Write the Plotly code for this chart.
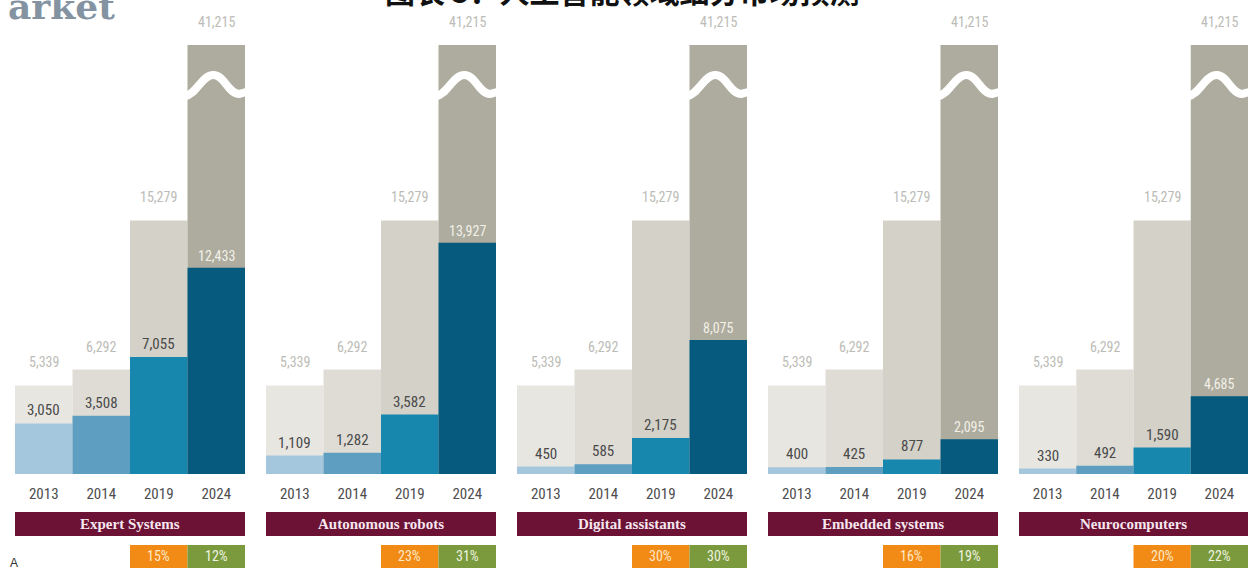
import plotly.graph_objects as go
from plotly.subplots import make_subplots

years = ["2013", "2014", "2019", "2024"]
market_total = [5339, 6292, 15279, 41215]
segments = ["Expert Systems", "Autonomous robots", "Digital assistants",
            "Embedded systems", "Neurocomputers"]
segment_values = [
    [3050, 3508, 7055, 12433],
    [1109, 1282, 3582, 13927],
    [450, 585, 2175, 8075],
    [400, 425, 877, 2095],
    [330, 492, 1590, 4685],
]
growth_orange = ["15%", "23%", "30%", "16%", "20%"]
growth_green = ["12%", "31%", "30%", "19%", "22%"]

W, H = 1248, 571
YMAX = 25850
BASE_PX, TOP_PX = 474, 45

bg_colors = ["#e8e6e1", "#dedcd5", "#d3d1c8", "#adac9e"]
fg_colors = ["#a4c7de", "#5e9ec1", "#1887ad", "#055a7e"]
fg_text_colors = ["#4a4a4a", "#4a4a4a", "#4a4a4a", "#f3f0e8"]

NARROW = "Liberation Sans Narrow, Roboto Condensed, Liberation Sans, sans-serif"

fig = make_subplots(rows=1, cols=5)

xs = list(range(len(years)))
annotations = []
shapes = []
panel_left = [15, 266, 517, 768, 1019]
panel_w = 230

ydom = [(H - BASE_PX) / H, (H - TOP_PX) / H]

def paper_y(px):
    return (H - px) / H

for i, name in enumerate(segments):
    col = i + 1
    xa = "x" if i == 0 else f"x{col}"
    ya = "y" if i == 0 else f"y{col}"
    fig.add_trace(go.Bar(x=xs, y=market_total, marker=dict(color=bg_colors, line=dict(width=0)),
                         width=1.0, showlegend=False, hoverinfo="skip"), row=1, col=col)
    fig.add_trace(go.Bar(x=xs, y=segment_values[i], marker=dict(color=fg_colors, line=dict(width=0)),
                         width=1.0, showlegend=False, hoverinfo="skip"), row=1, col=col)
    left = panel_left[i] / W
    right = min((panel_left[i] + panel_w) / W, 1.0)
    axkey = "xaxis" if i == 0 else f"xaxis{col}"
    aykey = "yaxis" if i == 0 else f"yaxis{col}"
    fig.layout[axkey].update(domain=[left, right], range=[-0.5, 3.5], tickvals=xs, ticktext=years,
                             showgrid=False, zeroline=False, showline=False, ticks="",
                             ticklabelstandoff=9,
                             tickfont=dict(family=NARROW, size=15, color="#4d4d4d"))
    fig.layout[aykey].update(domain=ydom, range=[0, YMAX], visible=False)

    # total labels
    for j, v in enumerate(market_total):
        annotations.append(dict(x=xs[j], y=min(v, YMAX), xref=xa, yref=ya, text=f"{v:,}",
                                showarrow=False, yanchor="bottom", yshift=13,
                                font=dict(family=NARROW, size=14, color="#bcbcb6")))
    # segment labels
    for j, v in enumerate(segment_values[i]):
        annotations.append(dict(x=xs[j], y=v, xref=xa, yref=ya, text=f"{v:,}",
                                showarrow=False, yanchor="bottom", yshift=2,
                                font=dict(family=NARROW, size=15 if j < 3 else 14,
                                          color=fg_text_colors[j])))
    # wave break on 2024 bar
    shapes.append(dict(type="path", xref=xa, yref=f"{ya} domain",
                       path="M 2.45,0.880 C 2.65,0.884 2.75,0.93 2.95,0.93 "
                            "C 3.15,0.93 3.2,0.886 3.4,0.886 L 3.56,0.892",
                       line=dict(color="white", width=8), layer="above"))
    # maroon banner
    shapes.append(dict(type="rect", xref=xa, yref="paper", x0=-0.5, x1=3.5,
                       y0=paper_y(536), y1=paper_y(512), fillcolor="#6b1235",
                       line=dict(width=0), layer="above"))
    annotations.append(dict(x=1.5, y=paper_y(524), xref=xa, yref="paper", text=f"<b>{name}</b>",
                            showarrow=False, yanchor="middle",
                            font=dict(family="Liberation Serif, DejaVu Serif, serif", size=15,
                                      color="#f6e6ee")))
    # growth boxes
    shapes.append(dict(type="rect", xref=xa, yref="paper", x0=1.5, x1=2.5,
                       y0=paper_y(568), y1=paper_y(545), fillcolor="#f28b16",
                       line=dict(width=0), layer="above"))
    shapes.append(dict(type="rect", xref=xa, yref="paper", x0=2.5, x1=3.5,
                       y0=paper_y(568), y1=paper_y(545), fillcolor="#7a9a3d",
                       line=dict(width=0), layer="above"))
    annotations.append(dict(x=2, y=paper_y(556), xref=xa, yref="paper", text=growth_orange[i],
                            showarrow=False, yanchor="middle",
                            font=dict(family=NARROW, size=14, color="#fde8c8")))
    annotations.append(dict(x=3, y=paper_y(556), xref=xa, yref="paper", text=growth_green[i],
                            showarrow=False, yanchor="middle",
                            font=dict(family=NARROW, size=14, color="#eef3e0")))

# cut-off title and header fragments
annotations.append(dict(x=622 / W, y=paper_y(14), xref="paper", yref="paper",
                        text="<b>图表 5：人工智能领域细分市场预测</b>", showarrow=False,
                        xanchor="center", yanchor="bottom",
                        font=dict(family="Noto Sans CJK SC", size=30, color="#111111")))
annotations.append(dict(x=6 / W, y=paper_y(29), xref="paper", yref="paper",
                        text="<b>arket</b>", showarrow=False, xanchor="left", yanchor="bottom",
                        font=dict(family="DejaVu Serif, serif", size=36, color="#8493a1")))
annotations.append(dict(x=8 / W, y=paper_y(563), xref="paper", yref="paper",
                        text="A", showarrow=False, xanchor="left", yanchor="middle",
                        font=dict(family="Liberation Sans, sans-serif", size=12, color="#333333")))

fig.update_layout(width=W, height=H, margin=dict(l=0, r=0, t=0, b=0),
                  paper_bgcolor="white", plot_bgcolor="white", barmode="overlay",
                  annotations=annotations, shapes=shapes, showlegend=False)

fig.write_html("out.html", config={"displayModeBar": False},
               post_script="document.body.style.margin='0px';document.body.style.overflow='hidden';")
